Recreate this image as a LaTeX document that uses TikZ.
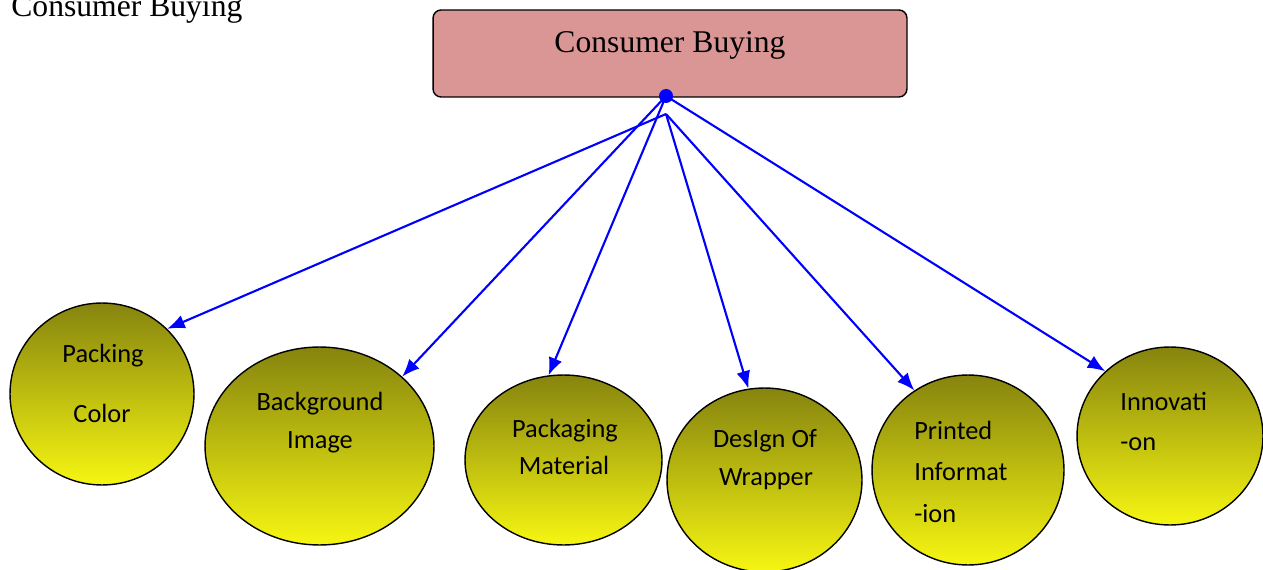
\documentclass[tikz,border=0pt]{standalone}
\usepackage{fontspec}
\setmainfont{Liberation Serif}
\newfontfamily\calibri{Carlito}
\usetikzlibrary{shapes.geometric,arrows.meta}

\definecolor{boxpink}{RGB}{218,150,148}
\definecolor{olivetop}{RGB}{134,132,14}
\definecolor{yellowbot}{RGB}{246,246,18}
\definecolor{linkblue}{RGB}{0,0,255}

\begin{document}
\begin{tikzpicture}[x=0.02cm, y=-0.02cm]
        \useasboundingbox (0,0) rectangle (1263,570);
        \node [anchor=base west, inner sep=0, font=\fontsize{18}{22}\selectfont] (heading) at (11,17) {Consumer Buying};

        % top box and the dot the arrows leave from
        \node [draw, thick, fill=boxpink, rounded corners=0.16cm, minimum width=9.48cm, minimum height=1.74cm] (buying) at (670,53.5) {};
        \node [anchor=base, inner sep=0, font=\fontsize{18}{22}\selectfont] (buyingtext) at (670,53) {Consumer Buying};
        \node [circle, fill=linkblue, inner sep=0, minimum size=0.28cm] (hub) at (666,96) {};
        \coordinate (split) at (666,114);

        \begin{scope}[every node/.style={ellipse, draw, thick, top color=olivetop, bottom color=yellowbot, inner sep=0}]
            \node [minimum width=3.68cm, minimum height=3.64cm] (color) at (102,394) {};
            \node [minimum width=4.58cm, minimum height=3.96cm] (image) at (319.5,446) {};
            \node [minimum width=3.94cm, minimum height=3.40cm] (material) at (563.5,460) {};
            \node [minimum width=3.90cm, minimum height=3.68cm] (wrapper) at (764.5,480) {};
            \node [minimum width=3.84cm, minimum height=3.80cm] (printed) at (968,470) {};
            \node [minimum width=3.72cm, minimum height=3.56cm] (innov) at (1170,436) {};
        \end{scope}

        \begin{scope}[every node/.style={anchor=base, inner sep=0, font=\calibri\fontsize{15}{18}\selectfont}]
            \node (colorA) at (103,363) {Packing};
            \node (colorB) at (102,422) {Color};
            \node (imageA) at (320,410) {Background};
            \node (imageB) at (320,448) {Image};
            \node (materialA) at (565,437) {Packaging};
            \node (materialB) at (564,474) {Material};
            \node (wrapperA) at (765,447) {DesIgn Of};
            \node (wrapperB) at (766,485) {Wrapper};
            \node [anchor=base west] (printedA) at (914,439) {Printed};
            \node [anchor=base west] (printedB) at (914,480) {Informat};
            \node [anchor=base west] (printedC) at (914,522) {-ion};
            \node [anchor=base west] (innovA) at (1120,410) {Innovati};
            \node [anchor=base west] (innovB) at (1120,450) {-on};
        \end{scope}

        \begin{scope}[every edge/.style={draw, linkblue, line width=1.2pt, -{Latex[length=10pt, width=8pt]}}]
            \path (split) edge (color.45);
            \path (hub.center) edge (image.40);
            \path (hub.center) edge (material.100);
            \path (split) edge (wrapper.100);
            \path (split) edge (printed.124);
            \path (hub.center) edge (innov.135);
        \end{scope}
    \end{tikzpicture}
\end{document}
